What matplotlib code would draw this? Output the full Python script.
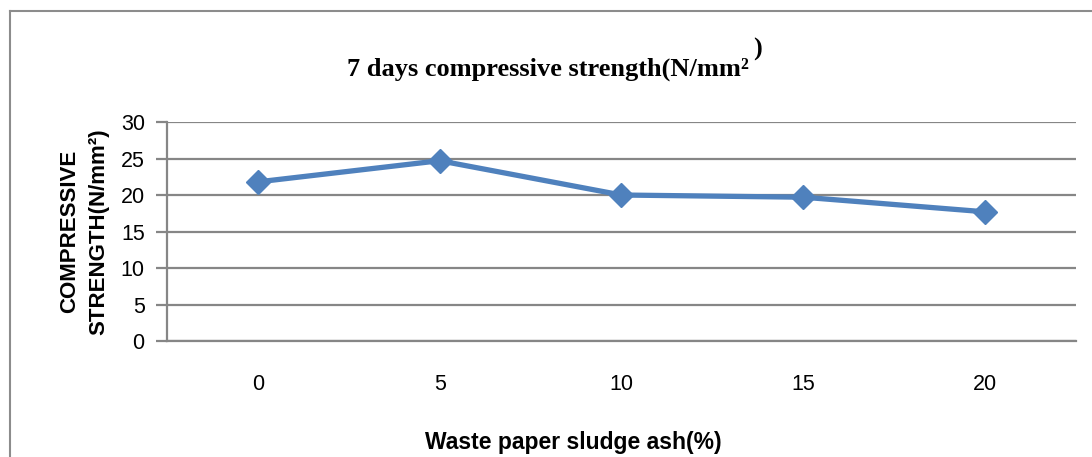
import matplotlib
matplotlib.use("Agg")
import matplotlib.pyplot as plt
from matplotlib import font_manager
from matplotlib.lines import Line2D

# data
ash_pct = ["0", "5", "10", "15", "20"]
strength = [21.8, 24.7, 20.0, 19.7, 17.7]
y_ticks = [0, 5, 10, 15, 20, 25, 30]

names = {f.name for f in font_manager.fontManager.ttflist}
narrow = "Liberation Sans Narrow" if "Liberation Sans Narrow" in names else "Liberation Sans"

fig = plt.figure(figsize=(10.92, 4.57), dpi=100)
ax = fig.add_axes([0.1529, 0.2538, 0.8324, 0.4792])

x = range(len(ash_pct))
ax.plot(x, strength, color="#4F81BD", linewidth=3.8, marker="D", markersize=12,
        markerfacecolor="#4F81BD", markeredgecolor="#4F81BD", zorder=3)

ax.set_xlim(-0.5, len(ash_pct) - 0.5)
ax.set_ylim(0, 30)
ax.set_yticks(y_ticks)
ax.set_xticks(list(x))
ax.set_xticklabels(ash_pct)
ax.grid(axis="y", color="#868686", linewidth=1.6)
ax.set_axisbelow(True)
for s in ["top", "right"]:
    ax.spines[s].set_visible(False)
for s in ["left", "bottom"]:
    ax.spines[s].set_color("#868686")
    ax.spines[s].set_linewidth(1.6)
ax.tick_params(axis="y", length=8, width=1.6, color="#868686", pad=8,
               labelsize=15.5)
ax.tick_params(axis="x", length=0, pad=24, labelsize=15.5)
for lab in ax.get_xticklabels() + ax.get_yticklabels():
    lab.set_fontfamily(narrow)

ax.set_xlabel("Waste paper sludge ash(%)", fontfamily=narrow, fontweight="bold",
              fontsize=16.5)
ax.xaxis.set_label_coords(0.447, -0.41)
ax.set_ylabel("COMPRESSIVE\nSTRENGTH(N/mm²)", fontfamily=narrow, fontweight="bold",
              fontsize=16, labelpad=8, linespacing=1.55)

# title with the raised closing bracket
fig.text(347 / 1092, 1 - 76 / 457, "7 days compressive strength(N/mm²",
         fontfamily="Liberation Serif", fontweight="bold", fontsize=19,
         ha="left", va="baseline")
fig.text(753 / 1092, 1 - 56 / 457, ")", fontfamily="Liberation Serif",
         fontweight="bold", fontsize=19, ha="left", va="baseline")

# outer chart frame (left and top edges visible)
fig.add_artist(Line2D([9.5 / 1092, 9.5 / 1092], [0, 1 - 10.5 / 457],
                      transform=fig.transFigure, color="#8c8c8c", linewidth=1.5))
fig.add_artist(Line2D([9.5 / 1092, 1], [1 - 10.5 / 457, 1 - 10.5 / 457],
                      transform=fig.transFigure, color="#8c8c8c", linewidth=1.5))

fig.savefig("out.png", dpi=100)
